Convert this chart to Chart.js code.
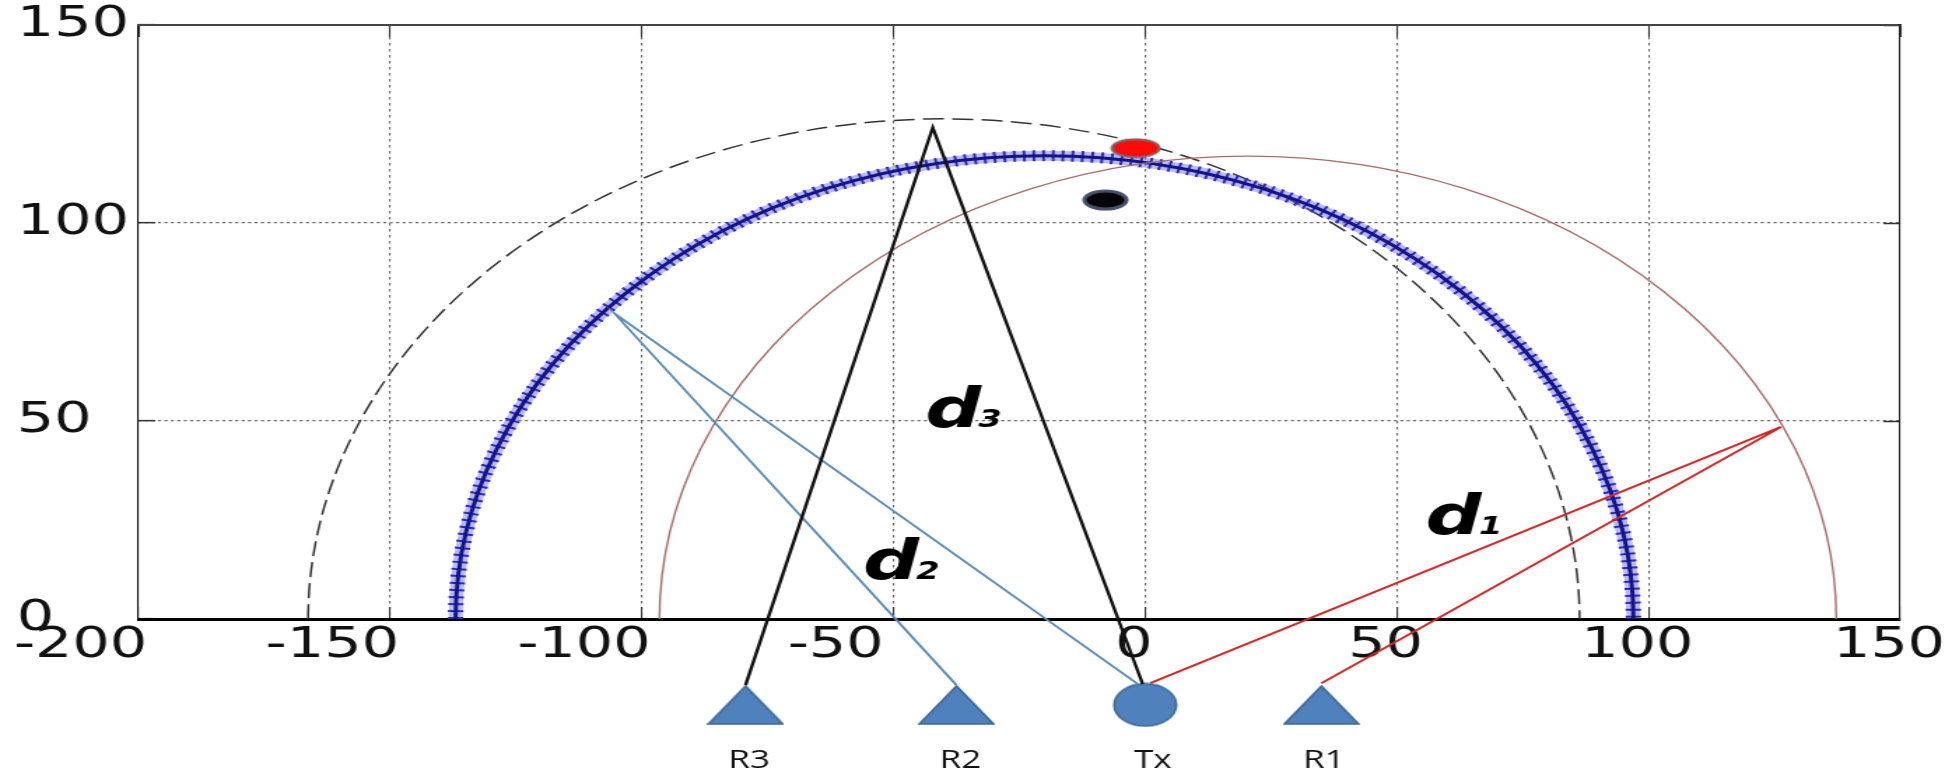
<!DOCTYPE html>
<html>
<head>
<meta charset="utf-8">
<script src="https://cdn.jsdelivr.net/npm/chart.js@4.4.1/dist/chart.umd.min.js"></script>
<style>
  html, body { margin: 0; padding: 0; background: #fff; overflow: hidden; }
  /* the source picture is stretched sideways, so the whole chart is too */
  #chart { position: absolute; left: 0; top: 0; width: 1400px; height: 774px;
           transform: scaleX(1.39929); transform-origin: 0 0; background: #fff; }
</style>
</head>
<body>
<canvas id="chart" width="1400" height="774"></canvas>
<script>
// axis ticks
const xTickValues = [-200, -150, -100, -50, 0, 50, 100, 150];
const yTickValues = [0, 50, 100, 150];

// circles, all centred on y = 0 (dashed, blue starred, red)
const circleNames = ['dashed', 'stars', 'red'];
const circleCenterX = [-40.0, -20.0, 20.4];
const circleRadius = [126.3, 117.0, 116.9];

// receiver -> reflection point -> Tx paths
const pathD3X = [-79.4, -42.2, -0.5];
const pathD3Y = [-16.7, 124.1, -16.4];
const pathD2X = [-37.5, -105.4, -1.5];
const pathD2Y = [-16.7, 77.1, -16.4];
const pathD1X = [1.0, 126.3, 35.0];
const pathD1Y = [-16.2, 48.5, -16.2];

// stations under the axis
const stationNames = ['R3', 'R2', 'Tx', 'R1'];
const stationX = [-79.4, -37.5, 0.0, 35.0];
const stationY = [-21.7, -21.7, -21.7, -21.7];
const stationLabelX = [-78.7, -36.7, 1.5, 35.5];
const stationLabelY = [-35.9, -35.9, -35.9, -35.9];

// estimated positions (red, black)
const estimateX = [-1.9, -7.9];
const estimateY = [118.9, 105.8];

// distance labels
const distMain = ['d', 'd', 'd'];
const distSub = ['1', '2', '3'];
const distLabelX = [55.7, -56.1, -43.7];
const distLabelY = [21.4, 10.0, 48.4];

const toXY = (xs, ys) => xs.map((v, i) => ({x: v, y: ys[i]}));

// marker images
function makeEllipse(w, h, fill, stroke, lw) {
    const c = document.createElement('canvas');
    c.width = w; c.height = h;
    const g = c.getContext('2d');
    g.beginPath();
    g.ellipse(w / 2, h / 2, w / 2 - lw / 2 - 0.5, h / 2 - lw / 2 - 0.5, 0, 0, 2 * Math.PI);
    g.fillStyle = fill; g.fill();
    g.lineWidth = lw; g.strokeStyle = stroke; g.stroke();
    return c;
}
function makeTriangle(w, h, fill, stroke) {
    const c = document.createElement('canvas');
    c.width = w; c.height = h;
    const g = c.getContext('2d');
    g.beginPath();
    g.moveTo(w / 2, 1); g.lineTo(w - 1, h - 1); g.lineTo(1, h - 1); g.closePath();
    g.fillStyle = fill; g.fill();
    g.lineWidth = 1.5; g.strokeStyle = stroke; g.stroke();
    return c;
}
const triImg = makeTriangle(55, 40, '#4f81bd', '#3b6796');
const txImg = makeEllipse(47, 45, '#4f81bd', '#3b6796', 1.5);
const redImg = makeEllipse(37, 21, '#ff0a0a', '#7d6a6a', 2);
const blackImg = makeEllipse(34, 22, '#050505', '#46506c', 3);

const circleStyles = {
    dashed: {color: '#333', width: 1.5, dash: [15, 6]},
    red: {color: '#a86c6c', width: 1.4, dash: []},
};

const arcPlugin = {
    id: 'arcs',
    beforeDatasetsDraw(chart) {
        const {ctx, scales: {x, y}} = chart;
        for (let i = 0; i < circleNames.length; i++) {
            const cx = x.getPixelForValue(circleCenterX[i]);
            const cy = y.getPixelForValue(0);
            const rx = x.getPixelForValue(circleCenterX[i] + circleRadius[i]) - cx;
            const ry = cy - y.getPixelForValue(circleRadius[i]);
            ctx.save();
            ctx.beginPath();
            ctx.ellipse(cx, cy, rx, ry, 0, Math.PI, 2 * Math.PI);
            if (circleNames[i] === 'stars') {
                ctx.strokeStyle = 'rgba(80,80,225,0.4)';
                ctx.lineWidth = 10;
                ctx.stroke();
                ctx.setLineDash([2, 5]);
                ctx.strokeStyle = '#2a2abc';
                ctx.lineWidth = 11;
                ctx.stroke();
                ctx.setLineDash([]);
                ctx.strokeStyle = '#13138a';
                ctx.lineWidth = 3;
                ctx.stroke();
            } else {
                const st = circleStyles[circleNames[i]];
                ctx.setLineDash(st.dash);
                ctx.strokeStyle = st.color;
                ctx.lineWidth = st.width;
                ctx.stroke();
            }
            ctx.restore();
        }
    }
};

const textPlugin = {
    id: 'annotText',
    afterDatasetsDraw(chart) {
        const {ctx, scales: {x, y}} = chart;
        ctx.save();
        ctx.fillStyle = '#000';
        ctx.textAlign = 'left';
        ctx.textBaseline = 'alphabetic';
        for (let i = 0; i < distMain.length; i++) {
            const px = x.getPixelForValue(distLabelX[i]);
            const py = y.getPixelForValue(distLabelY[i]);
            ctx.font = 'italic bold 56px "DejaVu Sans"';
            ctx.fillText(distMain[i], px, py);
            const w = ctx.measureText(distMain[i]).width;
            ctx.font = 'italic bold 24px "DejaVu Sans"';
            ctx.fillText(distSub[i], px + w - 2, py);
        }
        ctx.font = '25px "Open Sans"';
        ctx.fillStyle = '#111';
        ctx.textAlign = 'center';
        ctx.textBaseline = 'middle';
        for (let i = 0; i < stationNames.length; i++) {
            ctx.fillText(stationNames[i], x.getPixelForValue(stationLabelX[i]), y.getPixelForValue(stationLabelY[i]));
        }
        ctx.restore();
    }
};

const lineSet = (label, data, color, width) => ({
    label, data, showLine: true, borderColor: color, borderWidth: width,
    pointRadius: 0, tension: 0, clip: false, xAxisID: 'x', yAxisID: 'y'
});
const markSet = (label, data, img, r) => ({
    label, data, showLine: false, pointStyle: img, pointRadius: r,
    clip: false, xAxisID: 'x', yAxisID: 'y'
});

const tickFont = {family: 'DejaVu Sans', size: 42, lineHeight: 1};
const xStep = xTickValues[1] - xTickValues[0];
const yStep = yTickValues[1] - yTickValues[0];
const isXEdge = v => v === xTickValues[0] || v === xTickValues[xTickValues.length - 1];
const isYEdge = v => v === yTickValues[0] || v === yTickValues[yTickValues.length - 1];

new Chart(document.getElementById('chart'), {
    type: 'scatter',
    data: {
        datasets: [
            lineSet('d3', toXY(pathD3X, pathD3Y), '#111', 2.4),
            lineSet('d2', toXY(pathD2X, pathD2Y), '#5b8db8', 1.9),
            lineSet('d1', toXY(pathD1X, pathD1Y), '#d22626', 1.9),
            markSet('receivers', toXY([stationX[0], stationX[1], stationX[3]], [stationY[0], stationY[1], stationY[3]]), triImg, 130),
            markSet('tx', [{x: stationX[2], y: stationY[2]}], txImg, 130),
            markSet('estimate red', [{x: estimateX[0], y: estimateY[0]}], redImg, 20),
            markSet('estimate black', [{x: estimateX[1], y: estimateY[1]}], blackImg, 20),
        ]
    },
    options: {
        responsive: false,
        animation: false,
        devicePixelRatio: 1,
        events: [],
        layout: {autoPadding: false, padding: {left: 12, right: 42, top: 25, bottom: 0}},
        plugins: {legend: {display: false}, tooltip: {enabled: false}},
        scales: {
            x: {
                type: 'linear', position: 'bottom',
                min: xTickValues[0], max: xTickValues[xTickValues.length - 1],
                ticks: {
                    stepSize: xStep, font: tickFont, color: '#111', padding: 18, labelOffset: -8, maxRotation: 0,
                    // negative labels sit left of their grid line in the source
                    callback: v => v < 0 ? v + '     ' : String(v)
                },
                grid: {
                    color: c => (c.tick && isXEdge(c.tick.value)) ? 'rgba(0,0,0,0)' : '#666',
                    lineWidth: 1.1, drawTicks: true, tickLength: -12, tickColor: '#333', tickWidth: 1.1
                },
                border: {display: true, color: '#000', width: 3, dash: [2.5, 3.5]},
                afterFit: s => { s.height = 155; s.paddingLeft = 0; s.paddingRight = 0; }
            },
            y: {
                type: 'linear', position: 'left',
                min: yTickValues[0], max: yTickValues[yTickValues.length - 1],
                ticks: {stepSize: yStep, font: tickFont, color: '#111', padding: 0, crossAlign: 'far'},
                grid: {
                    color: c => (c.tick && isYEdge(c.tick.value)) ? 'rgba(0,0,0,0)' : '#666',
                    lineWidth: 1.3, drawTicks: true, tickLength: -12, tickColor: '#333', tickWidth: 1.5
                },
                border: {display: true, color: '#111', width: 1.1, dash: [2.2, 2.4]},
                afterFit: s => { s.width = 87; }
            },
            xTop: {
                type: 'linear', position: 'top',
                min: xTickValues[0], max: xTickValues[xTickValues.length - 1],
                ticks: {display: false, stepSize: xStep},
                grid: {drawOnChartArea: false, drawTicks: true, tickLength: -12, tickColor: '#333', tickWidth: 1.1},
                border: {display: true, color: '#444', width: 2},
                afterFit: s => { s.height = 0; }
            },
            yRight: {
                type: 'linear', position: 'right',
                min: yTickValues[0], max: yTickValues[yTickValues.length - 1],
                ticks: {display: false, stepSize: yStep},
                grid: {drawOnChartArea: false, drawTicks: true, tickLength: -12, tickColor: '#333', tickWidth: 1.5},
                border: {display: true, color: '#222', width: 1.1},
                afterFit: s => { s.width = 0; }
            }
        }
    },
    plugins: [arcPlugin, textPlugin]
});
</script>
</body>
</html>
